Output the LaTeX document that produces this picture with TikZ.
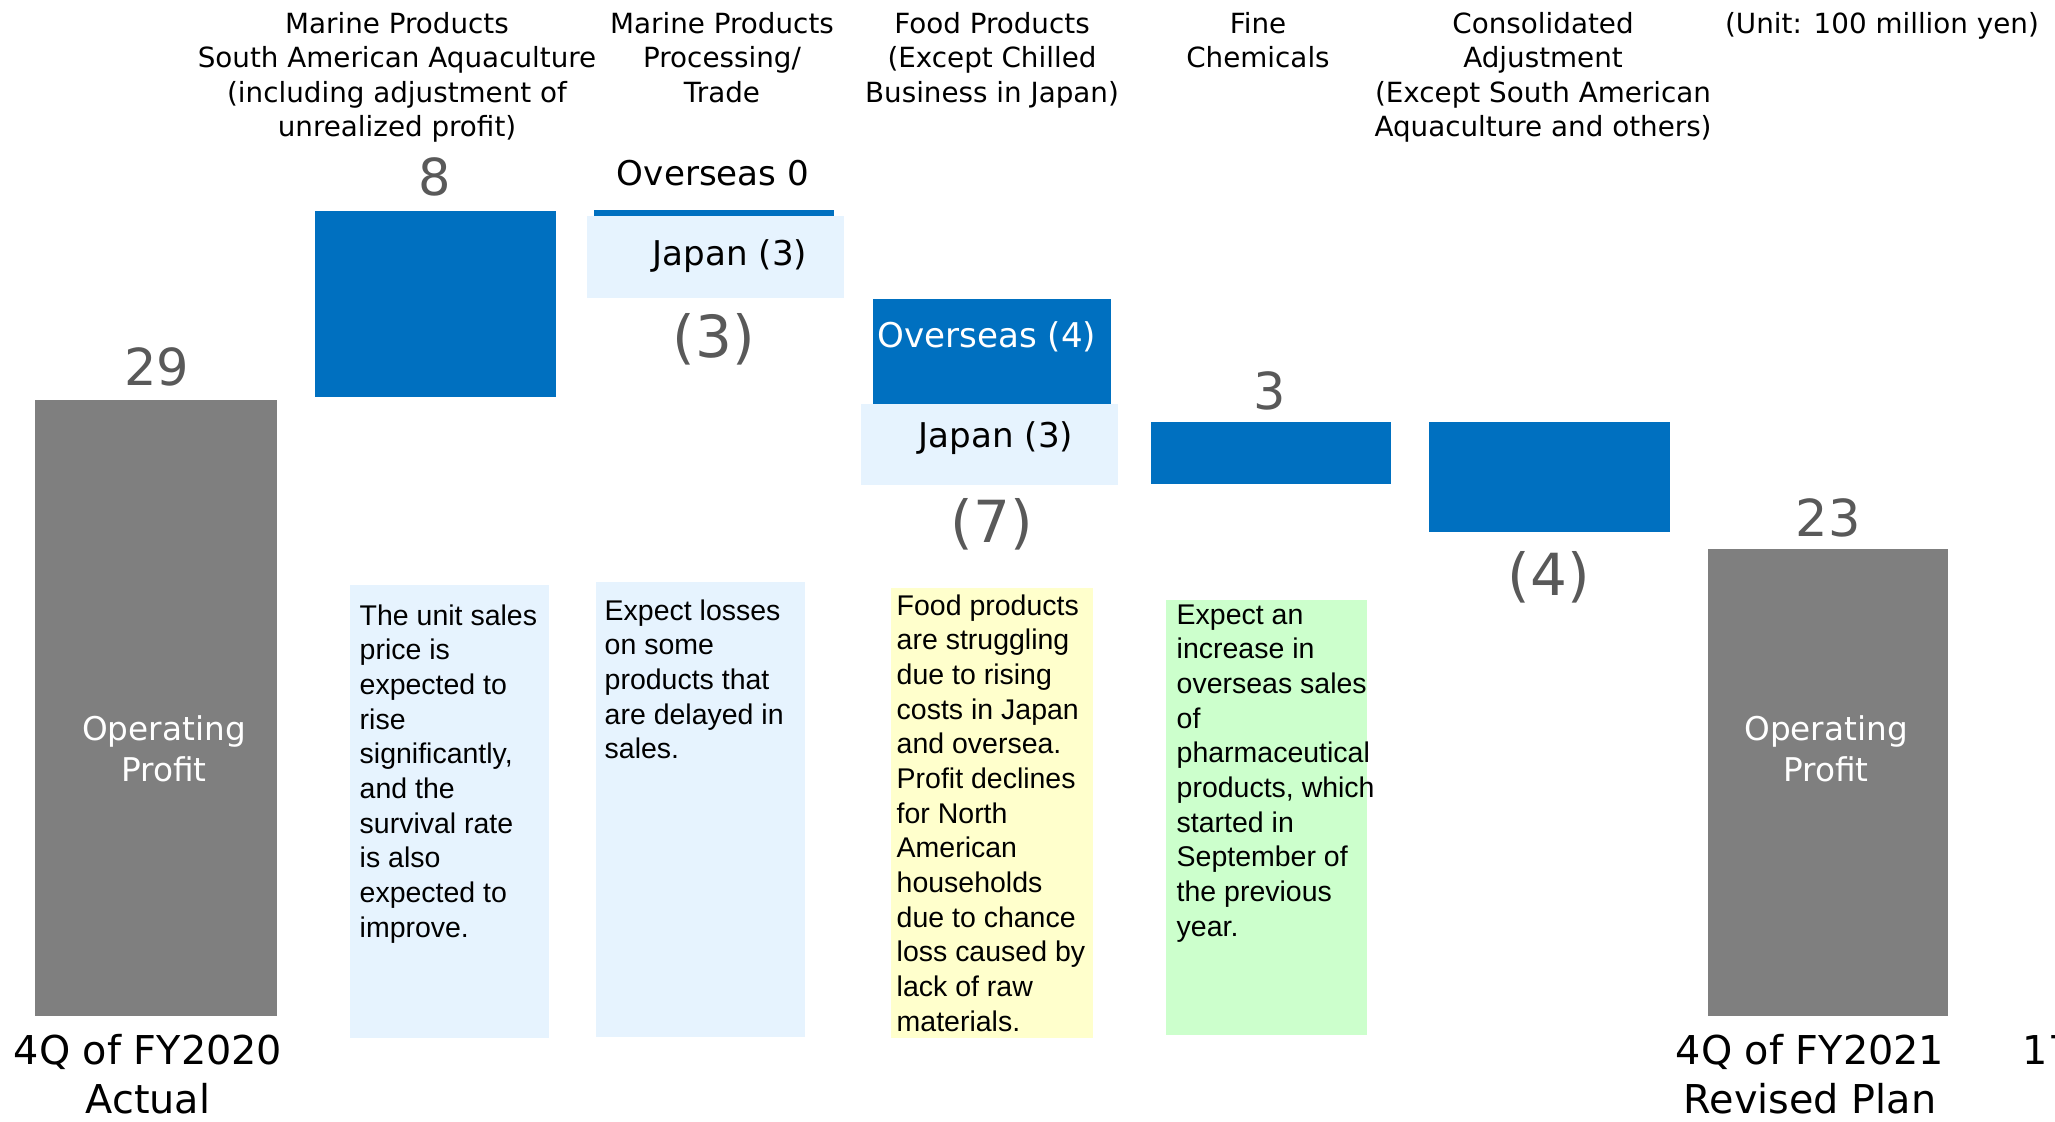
\documentclass[tikz,border=0pt]{standalone}
\usepackage{fontspec}
\setmainfont{DejaVu Sans}
\newfontfamily\arfont{Liberation Sans}
\definecolor{barblue}{HTML}{0070C0}
\definecolor{paleblue}{HTML}{E6F3FE}
\definecolor{paleyellow}{HTML}{FFFFCC}
\definecolor{palegreen}{HTML}{CCFFCC}
\definecolor{bargray}{HTML}{7F7F7F}
\definecolor{numgray}{HTML}{595959}
\begin{document}
\begin{tikzpicture}[x=0.01cm,y=-0.01cm,
  head/.style={anchor=north,align=center,inner sep=0pt,font=\fontsize{7.9}{9.7}\selectfont},
  valpos/.style={inner sep=0pt,text=numgray,font=\fontsize{14.5}{17}\selectfont},
  valneg/.style={inner sep=0pt,text=numgray,font=\fontsize{16.5}{19}\selectfont},
  region/.style={inner sep=0pt,font=\fontsize{9.7}{11.6}\selectfont},
  oplabel/.style={inner sep=0pt,align=center,text=white,font=\fontsize{9.3}{11.6}\selectfont},
  period/.style={inner sep=0pt,align=center,font=\fontsize{11.3}{13.8}\selectfont},
  note/.style={anchor=north west,inner sep=0pt,align=left,font=\arfont\fontsize{8.1}{9.85}\selectfont}]
\useasboundingbox (0,0) rectangle (2055,1121);
\clip (0,0) rectangle (2055,1121);

% headings
\node[head] (h1) at (397,12) {Marine Products\\South American Aquaculture\\(including adjustment of\\unrealized profit)};
\node[head] (h2) at (722,12) {Marine Products\\Processing/\\Trade};
\node[head] (h3) at (992,12) {Food Products\\(Except Chilled\\Business in Japan)};
\node[head] (h4) at (1258,12) {Fine\\Chemicals};
\node[head] (h5) at (1543,12) {Consolidated\\Adjustment\\(Except South American\\Aquaculture and others)};
\node[head] (unit) at (1882,12) {(Unit: 100 million yen)};

% bars
\fill[bargray] (35,400) rectangle (277,1016);
\fill[barblue] (315,211) rectangle (556,397);
\fill[barblue] (594,210) rectangle (834,216);
\fill[paleblue] (587,216) rectangle (844,298);
\fill[barblue] (873,299) rectangle (1111,404);
\fill[paleblue] (861,404) rectangle (1118,485);
\fill[barblue] (1151,422) rectangle (1391,484);
\fill[barblue] (1429,422) rectangle (1670,532);
\fill[bargray] (1708,549) rectangle (1948,1016);

% value labels
\node[valpos] (v29) at (157,367) {29};
\node[valpos] (v8) at (435,177) {8};
\node[region] (ov0) at (713,173) {Overseas 0};
\node[region] (jp2) at (730,256) {Japan (3)};
\node[valneg] (v3n) at (714,339) {(3)};
\node[region,text=white] (ov4) at (987,337) {Overseas (4)};
\node[region] (jp3) at (996,438) {Japan (3)};
\node[valneg] (v7n) at (992,524) {(7)};
\node[valpos] (v3) at (1270,391) {3};
\node[valneg] (v4n) at (1549,577) {(4)};
\node[valpos] (v23) at (1828,518) {23};

% operating profit labels
\node[oplabel] (op1) at (164,749) {Operating\\Profit};
\node[oplabel] (op2) at (1826,749) {Operating\\Profit};

% periods
\node[period] (p1) at (148,1074) {4Q of FY2020\\Actual};
\node[period] (p2) at (1810,1074) {4Q of FY2021\\Revised Plan};
\node[period,anchor=west] (pg) at (2022,1050) {17};

% notes
\fill[paleblue] (350,585) rectangle (549,1038);
\fill[paleblue] (596,582) rectangle (805,1037);
\fill[paleyellow] (891,588) rectangle (1093,1038);
\fill[palegreen] (1166,600) rectangle (1367,1035);
\node[note] (nA) at (359,604) {The unit sales\\price is\\expected to\\rise\\significantly,\\and the\\survival rate\\is also\\expected to\\improve.};
\node[note] (nB) at (604,599) {Expect losses\\on some\\products that\\are delayed in\\sales.};
\node[note] (nC) at (896,594) {Food products\\are struggling\\due to rising\\costs in Japan\\and oversea.\\Profit declines\\for North\\American\\households\\due to chance\\loss caused by\\lack of raw\\materials.};
\node[note] (nD) at (1176,604) {Expect an\\increase in\\overseas sales\\of\\pharmaceutical\\products, which\\started in\\September of\\the previous\\year.};
\end{tikzpicture}
\end{document}
